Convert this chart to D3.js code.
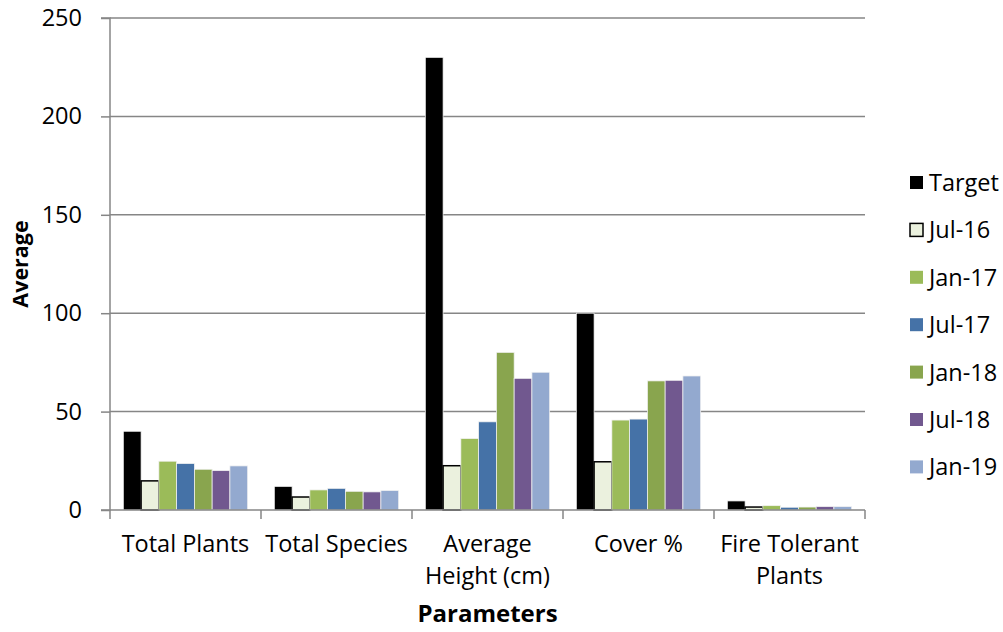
<!DOCTYPE html>
<html>
<head>
<meta charset="utf-8">
<script src="https://cdn.jsdelivr.net/npm/d3@7"></script>
<style>
  html, body { margin: 0; padding: 0; background: #fff; }
  svg { display: block; font-family: "Open Sans", "Liberation Sans", sans-serif; }
</style>
</head>
<body>
<svg id="chart" width="1003" height="632"></svg>
<script>
// Survey parameters and period averages
const categories = [["Total Plants"], ["Total Species"], ["Average", "Height (cm)"], ["Cover %"], ["Fire Tolerant", "Plants"]];
const seriesNames = ["Target", "Jul-16", "Jan-17", "Jul-17", "Jan-18", "Jul-18", "Jan-19"];
const target = [40, 12, 230, 100, 4.6];
const jul16  = [14.8, 6.6, 22.5, 24.5, 1.5];
const jan17  = [24.8, 10.2, 36.3, 45.7, 2.2];
const jul17  = [23.6, 11.0, 44.8, 46.2, 1.4];
const jan18  = [20.7, 9.5, 80.1, 65.6, 1.5];
const jul18  = [20.0, 9.2, 66.9, 65.9, 1.7];
const jan19  = [22.4, 9.9, 70.0, 68.1, 1.7];
const seriesValues = [target, jul16, jan17, jul17, jan18, jul18, jan19];
const yTicks = [0, 50, 100, 150, 200, 250];

const fills   = ["#000000", "#EBF1DE", "#9BBB59", "#4572A7", "#89A54E", "#71588F", "#93A9CF"];
const strokes = ["#f2f2f2", "#000000", "#f2f2f2", "#f2f2f2", "#f2f2f2", "#f2f2f2", "#f2f2f2"];

const svg = d3.select("#chart");
const plotLeft = 110, plotRight = 865, plotTop = 18, plotBottom = 510;
const labelSize = 23.5;

const x0 = d3.scaleBand().domain(d3.range(categories.length)).range([plotLeft, plotRight]).paddingInner(0).paddingOuter(0);
const y = d3.scaleLinear().domain([0, 250]).range([plotBottom, plotTop]);
const barW = x0.bandwidth() / 8.5;

// horizontal gridlines
svg.append("g").selectAll("line").data(yTicks.filter(t => t > 0)).join("line")
  .attr("x1", plotLeft).attr("x2", plotRight)
  .attr("y1", d => y(d)).attr("y2", d => y(d))
  .attr("stroke", "#868686").attr("stroke-width", 1.5);

// bars
const gBars = svg.append("g");
seriesValues.forEach((vals, s) => {
  gBars.append("g").selectAll("rect").data(vals).join("rect")
    .attr("x", (d, i) => x0(i) + barW * 0.75 + s * barW)
    .attr("y", d => y(d))
    .attr("width", barW)
    .attr("height", d => plotBottom - y(d))
    .attr("fill", fills[s])
    .attr("stroke", strokes[s])
    .attr("stroke-width", s === 1 ? 1.5 : 0.75);
});

// y axis
const yAxis = d3.axisLeft(y).tickValues(yTicks).tickSize(9).tickPadding(19);
const gy = svg.append("g").attr("transform", `translate(${plotLeft},0)`).call(yAxis);
gy.select(".domain").attr("stroke", "#868686").attr("stroke-width", 1.5).attr("d", `M-9,${plotTop}H0V${plotBottom}H-9`);
gy.selectAll(".tick line").attr("stroke", "#868686").attr("stroke-width", 1.5);
gy.selectAll(".tick text").attr("font-size", labelSize).attr("fill", "#000")
  .attr("font-family", "'Open Sans', sans-serif");

// x axis with ticks at category boundaries
const xBound = d3.scaleLinear().domain([0, categories.length]).range([plotLeft, plotRight]);
svg.append("line").attr("x1", plotLeft).attr("x2", plotRight).attr("y1", plotBottom).attr("y2", plotBottom)
  .attr("stroke", "#868686").attr("stroke-width", 1.5);
svg.append("g").selectAll("line").data(d3.range(categories.length + 1)).join("line")
  .attr("x1", d => xBound(d)).attr("x2", d => xBound(d))
  .attr("y1", plotBottom).attr("y2", plotBottom + 9)
  .attr("stroke", "#868686").attr("stroke-width", 1.5);

// category labels
const gLab = svg.append("g").attr("font-size", labelSize).attr("fill", "#000").attr("text-anchor", "middle");
categories.forEach((lines, i) => {
  const t = gLab.append("text").attr("x", x0(i) + x0.bandwidth() / 2).attr("y", 552);
  lines.forEach((ln, k) => {
    t.append("tspan").attr("x", x0(i) + x0.bandwidth() / 2).attr("dy", k === 0 ? 0 : 32).text(ln);
  });
});

// axis titles
svg.append("text").attr("x", (plotLeft + plotRight) / 2).attr("y", 622)
  .attr("text-anchor", "middle").attr("font-size", 24).attr("font-weight", "bold").text("Parameters");
svg.append("text").attr("transform", `translate(28,${(plotTop + plotBottom) / 2}) rotate(-90)`)
  .attr("text-anchor", "middle").attr("font-size", 21.5).attr("font-weight", "bold").text("Average");

// legend
const legend = svg.append("g");
seriesNames.forEach((name, s) => {
  const cy = 183 + s * 47.4;
  legend.append("rect").attr("x", 910).attr("y", cy - 7).attr("width", 13).attr("height", 13)
    .attr("fill", fills[s]).attr("stroke", s === 1 ? "#000" : "none").attr("stroke-width", 1.5);
  legend.append("text").attr("x", 929).attr("y", cy + 8).attr("font-size", labelSize).text(name);
});
</script>
</body>
</html>
